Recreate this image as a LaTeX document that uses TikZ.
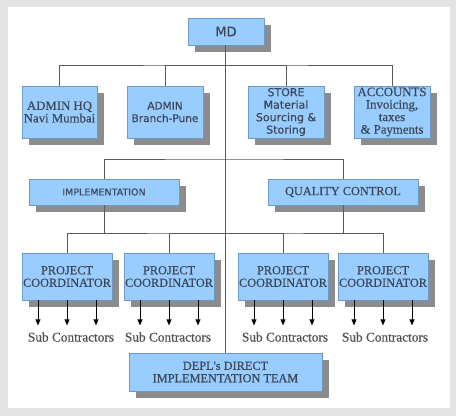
\documentclass[tikz,border=0pt]{standalone}
\usepackage{fontspec}
\setmainfont{Liberation Serif}
\newfontfamily\serifx{Liberation Serif}[FakeBold=0.5]
\newfontfamily\dvsans{DejaVu Sans}[FakeBold=0.3]
\usetikzlibrary{shadows,arrows.meta}
\definecolor{boxfill}{HTML}{99CCFF}
\definecolor{boxline}{HTML}{6E98C6}
\definecolor{shadowc}{HTML}{8C8C8C}
\definecolor{linec}{HTML}{5A5A5A}
\definecolor{txt}{HTML}{3B4756}
\definecolor{subtxt}{HTML}{505050}
\definecolor{framec}{HTML}{E3E3E3}
\tikzset{
 orgbox/.style={draw=boxline, line width=0.8pt, fill=boxfill, text=txt, align=center, inner sep=0pt,
   drop shadow={shadow xshift=7pt, shadow yshift=-7pt, fill=shadowc, opacity=1}},
 serifbox/.style={orgbox, font=\serifx\fontsize{12.3}{12.5}\selectfont},
 sansbox/.style={orgbox, font=\dvsans\fontsize{10.5}{12.5}\selectfont},
 conn/.style={draw=linec, line width=0.8pt},
 subarr/.style={draw=black, line width=0.7pt, -{Triangle[width=5pt,length=6pt]}},
 sublabel/.style={text=subtxt, font=\serifx\fontsize{13.3}{13}\selectfont, inner sep=0pt},
}
\begin{document}
\begin{tikzpicture}[x=1pt,y=-1pt]
\fill[framec] (0,0) rectangle (456,416);
\fill[white] (8,7) rectangle (450,408);
\useasboundingbox (0,0) rectangle (456,416);

% level 0
\node[sansbox, minimum width=76pt, minimum height=27pt, font=\dvsans\fontsize{13}{13}\selectfont] (md) at (226,31.5) {MD};

% level 1
\node[serifbox, minimum width=75pt, minimum height=52pt, font=\serifx\fontsize{12.8}{12.5}\selectfont] (hq) at (59.5,112) {ADMIN HQ\\Navi Mumbai};
\node[sansbox, minimum width=76pt, minimum height=52pt] (br) at (165,112) {ADMIN\\Branch-Pune};
\node[sansbox, minimum width=76pt, minimum height=52pt, font=\dvsans\fontsize{11}{12.5}\selectfont] (st) at (286,112) {STORE\\Material\\Sourcing \&\\Storing};
\node[serifbox, minimum width=76pt, minimum height=52pt, font=\serifx\fontsize{12.8}{12.5}\selectfont] (acc) at (392,112) {ACCOUNTS\\Invoicing,\\taxes\\\& Payments};

% level 2
\node[sansbox, minimum width=150pt, minimum height=26pt, font=\dvsans\fontsize{9.5}{11}\selectfont] (impl) at (104,192) {IMPLEMENTATION};
\node[serifbox, minimum width=150pt, minimum height=26pt] (qc) at (343,192) {QUALITY CONTROL};

% level 3
\node[serifbox, minimum width=90pt, minimum height=47pt] (pc1) at (67,276.5) {PROJECT\\COORDINATOR};
\node[serifbox, minimum width=90pt, minimum height=47pt] (pc2) at (169,276.5) {PROJECT\\COORDINATOR};
\node[serifbox, minimum width=90pt, minimum height=47pt] (pc3) at (283,276.5) {PROJECT\\COORDINATOR};
\node[serifbox, minimum width=90pt, minimum height=47pt] (pc4) at (383,276.5) {PROJECT\\COORDINATOR};

% direct team
\node[serifbox, minimum width=193pt, minimum height=38pt] (depl) at (225.5,372) {DEPL's DIRECT\\IMPLEMENTATION TEAM};

% sub contractor labels
\node[sublabel] (sc1) at (71,337) {Sub Contractors};
\node[sublabel] (sc2) at (168,337) {Sub Contractors};
\node[sublabel] (sc3) at (285,337) {Sub Contractors};
\node[sublabel] (sc4) at (385,337) {Sub Contractors};

% buses
\coordinate (bus1) at (225,65);
\coordinate (bus2) at (225,159);
\coordinate (bus3) at (225,233);

% connectors
\draw[conn] (md.south -| bus1) -- (depl.north -| bus1);
\draw[conn] (hq.north) |- (bus1) -| (acc.north);
\draw[conn] (br.north) |- (bus1);
\draw[conn] (st.north) |- (bus1);
\draw[conn] (impl.north) |- (bus2) -| (qc.north);
\draw[conn] (impl.south) -- (impl.south |- bus3);
\draw[conn] (qc.south) -- (qc.south |- bus3);
\draw[conn] (pc1.north) |- (bus3) -| (pc4.north);
\draw[conn] (pc2.north) |- (bus3);
\draw[conn] (pc3.north) |- (bus3);

% arrows to sub contractors
\foreach \p in {pc1,pc2,pc3,pc4}{
  \foreach \dx in {-29,0,29}{
    \draw[subarr] ([xshift=\dx pt]\p.south) -- ++(0,25);
  }
}
\end{tikzpicture}
\end{document}
